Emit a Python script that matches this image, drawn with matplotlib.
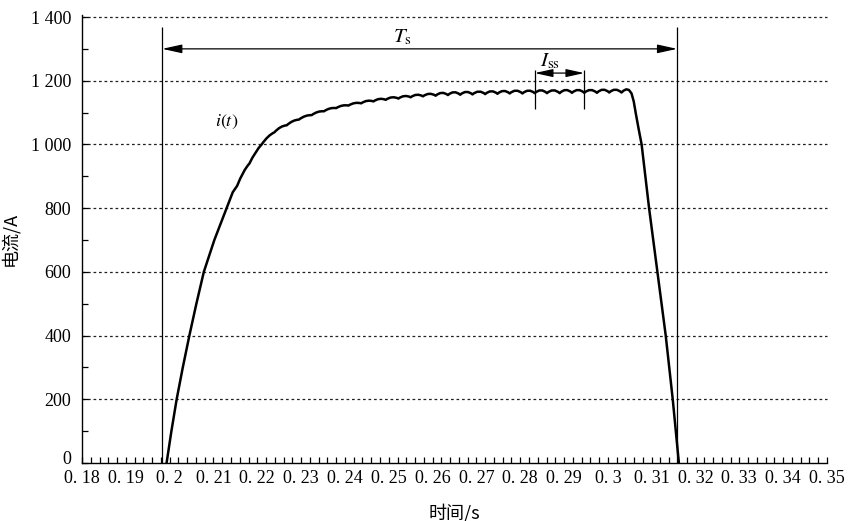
import matplotlib
matplotlib.use('Agg')
import matplotlib.pyplot as plt
import matplotlib.transforms as mtransforms
from matplotlib.path import Path
from matplotlib.patches import PathPatch
from matplotlib.ticker import MultipleLocator, FixedLocator, FixedFormatter

# smooth rise at the start (time s, current A)
rise_t = [0.1993, 0.2004, 0.2016, 0.2030, 0.2045, 0.2061, 0.2078, 0.2102, 0.2130, 0.2144]
rise_i = [0, 100, 200, 300, 400, 500, 600, 700, 800, 850]

# ripple: cusps (valleys) and the top of each arc between them
valley_t = [0.2154, 0.2182, 0.2210, 0.2239, 0.2267, 0.2295, 0.2324, 0.2352, 0.2380, 0.2408,
            0.2437, 0.2465, 0.2493, 0.2522, 0.2550, 0.2578, 0.2607, 0.2635, 0.2663, 0.2691,
            0.2720, 0.2748, 0.2776, 0.2805, 0.2833, 0.2861, 0.2890, 0.2918, 0.2946, 0.2975,
            0.3003, 0.3031]
valley_i = [870, 940, 1000, 1038, 1060, 1078, 1092, 1104, 1114, 1122,
            1129, 1135, 1140, 1144, 1148, 1151, 1153, 1155, 1156, 1157,
            1158, 1159, 1160, 1160, 1161, 1161, 1161, 1162, 1162, 1162,
            1163, 1163]
peak_i = [912, 975, 1024, 1054, 1073, 1089, 1102, 1113, 1122, 1130,
          1137, 1143, 1148, 1152, 1156, 1159, 1162, 1164, 1165, 1166,
          1167, 1168, 1169, 1169, 1170, 1170, 1171, 1171, 1171, 1172,
          1172]

# turn-off
fall_t = [0.3036, 0.3042, 0.3048, 0.3054, 0.3059, 0.3064, 0.3070, 0.3077, 0.3094, 0.3113, 0.3132, 0.3148, 0.3162]
fall_i = [1169, 1173, 1171, 1160, 1135, 1095, 1050, 1000, 800, 600, 400, 200, 0]

ts_start, ts_end = 0.1983, 0.3158
iss_start, iss_end = 0.2833, 0.2946

x_ticks = [0.18, 0.19, 0.20, 0.21, 0.22, 0.23, 0.24, 0.25, 0.26, 0.27, 0.28, 0.29,
           0.30, 0.31, 0.32, 0.33, 0.34, 0.35]
x_labels = ['0. 18', '0. 19', '0. 2', '0. 21', '0. 22', '0. 23', '0. 24', '0. 25', '0. 26',
            '0. 27', '0. 28', '0. 29', '0. 3', '0. 31', '0. 32', '0. 33', '0. 34', '0. 35']
y_ticks = [0, 200, 400, 600, 800, 1000, 1200, 1400]
y_labels = ['0', '200', '400', '600', '800', '1 000', '1 200', '1 400']

plt.rcParams['font.family'] = ['Liberation Serif', 'DejaVu Serif']
plt.rcParams['mathtext.fontset'] = 'stix'

fig = plt.figure(figsize=(8.5, 5.21), dpi=100)
ax = fig.add_axes([0.09647, 0.11132, 0.87647, 0.8591])
ax.set_xlim(0.18, 0.35)
ax.set_ylim(0, 1405)

# dotted grid
for y in y_ticks[1:]:
    ax.axhline(y, color='#222222', lw=0.9, ls=(0, (2.2, 2.2)), clip_on=False, zorder=1)

# current waveform
verts = [(t, i) for t, i in zip(rise_t, rise_i)]
codes = [Path.MOVETO] + [Path.LINETO] * (len(rise_t) - 1)
verts.append((valley_t[0], valley_i[0]))
codes.append(Path.LINETO)
for k in range(len(peak_i)):
    t0, t1 = valley_t[k], valley_t[k + 1]
    v0, v1 = valley_i[k], valley_i[k + 1]
    ctrl = 2 * peak_i[k] - (v0 + v1) / 2
    verts += [((t0 + t1) / 2, ctrl), (t1, v1)]
    codes += [Path.CURVE3, Path.CURVE3]
verts += [(t, i) for t, i in zip(fall_t, fall_i)]
codes += [Path.LINETO] * len(fall_t)
ax.add_patch(PathPatch(Path(verts, codes), facecolor='none', edgecolor='black',
                       lw=1.8, joinstyle='round', capstyle='round', zorder=3))

arrow_style = '<|-|>,head_length=1.0,head_width=0.22'

# T_s markers
ax.vlines([ts_start, ts_end], 0, 1368, color='black', lw=0.9, zorder=2)
ax.annotate('', xy=(ts_start, 1300), xytext=(ts_end, 1300),
            arrowprops=dict(arrowstyle=arrow_style, color='black', lw=0.9,
                            shrinkA=0, shrinkB=0, mutation_scale=12))
ax.text(0.2530, 1335, r'$T_{\rm s}$', fontsize=15, ha='center', va='center')

# I_ss markers
ax.vlines([iss_start, iss_end], 1112, 1233, color='black', lw=0.9, zorder=2)
ax.annotate('', xy=(iss_start, 1224), xytext=(iss_end, 1224),
            arrowprops=dict(arrowstyle=arrow_style, color='black', lw=0.9,
                            shrinkA=0, shrinkB=0, mutation_scale=11))
ax.text(0.2868, 1262, r'$I_{\rm ss}$', fontsize=15, ha='center', va='center')

ax.text(0.2131, 1070, r'$i(t)$', fontsize=13, ha='center', va='center')

# axes styling
for side in ['top', 'right']:
    ax.spines[side].set_visible(False)
ax.spines['left'].set_linewidth(1.0)
ax.spines['bottom'].set_linewidth(1.0)
ax.xaxis.set_major_locator(FixedLocator(x_ticks))
ax.xaxis.set_major_formatter(FixedFormatter(x_labels))
ax.xaxis.set_minor_locator(MultipleLocator(0.002))
ax.yaxis.set_major_locator(FixedLocator(y_ticks))
ax.yaxis.set_major_formatter(FixedFormatter(y_labels))
ax.yaxis.set_minor_locator(MultipleLocator(100))
ax.tick_params(which='both', direction='in', length=4, width=0.9)
ax.tick_params(axis='x', labelsize=13, pad=5)
ax.tick_params(axis='y', labelsize=13, pad=8)

# lift the "0" a little so it clears the x labels
zero_label = ax.get_yticklabels()[0]
zero_label.set_transform(zero_label.get_transform() +
                         mtransforms.ScaledTranslation(0, 4 / 72, fig.dpi_scale_trans))

ax.set_xlabel('时间/s', family=['Noto Sans CJK SC', 'DejaVu Sans'], fontsize=13, labelpad=12)
ax.set_ylabel('电流/A', family=['Noto Sans CJK SC', 'DejaVu Sans'], fontsize=13, labelpad=8)

fig.savefig('out.png', dpi=100)
